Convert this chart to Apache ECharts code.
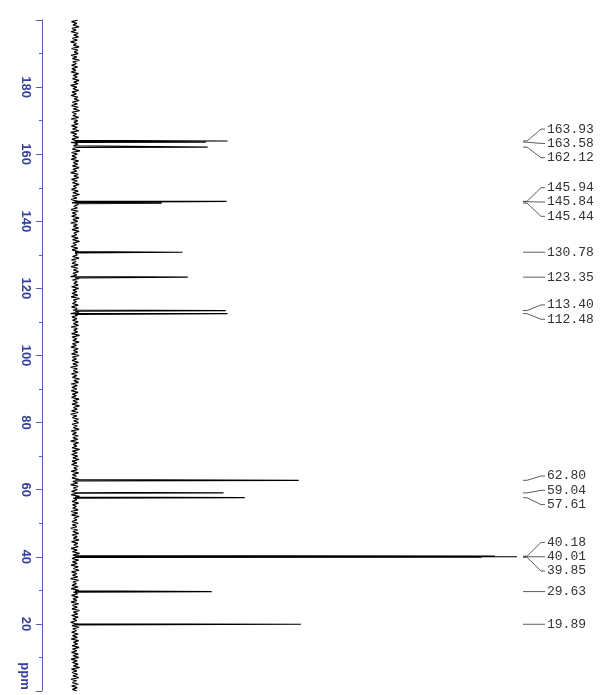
<!DOCTYPE html>
<html><head><meta charset="utf-8">
<script src="https://cdn.jsdelivr.net/npm/echarts@6/dist/echarts.min.js"></script>
<style>html,body{margin:0;padding:0;background:#fff}#c{width:610px;height:695px}</style>
</head><body><div id="c"></div>
<script>
// 13C NMR peaks (ppm) and their relative intensities (largest = 100)
const peakPpm = [163.93,163.58,162.12,145.94,145.84,145.44,130.78,123.35,113.40,112.48,62.80,59.04,57.61,40.18,40.01,39.85,29.63,19.89];
const peakHeight = [34.5,29.6,30.0,34.3,26.8,19.6,24.3,25.5,34.1,34.5,50.6,33.6,38.4,95,100,92,30.9,51.1];
const peakLabels = ["163.93","163.58","162.12","145.94","145.84","145.44","130.78","123.35","113.40","112.48","62.80","59.04","57.61","40.18","40.01","39.85","29.63","19.89"];
// baseline noise read each 0.5 ppm from 200 ppm down to 0 ppm
const noise = [
0.6,-0.8,0.4,-0.5,0.9,-0.7,0.2,-0.9,0.7,-0.3,0.8,-0.6,0.5,-1.0,0.3,-0.4,0.9,-0.8,0.6,-0.2,
0.7,-0.9,0.4,-0.6,1.0,-0.5,0.3,-0.8,0.6,-0.7,0.2,-0.9,0.8,-0.4,0.5,-0.6,0.9,-0.3,0.7,-1.0,
0.4,-0.5,0.8,-0.7,0.3,-0.9,0.6,-0.2,0.9,-0.6,0.5,-0.8,0.7,-0.4,1.0,-0.7,0.3,-0.5,0.8,-0.9,
0.6,-0.3,0.7,-0.8,0.5,-0.6,0.9,-1.0,0.4,-0.5,0.8,-0.7,0.2,-0.9,0.6,-0.4,0.7,-0.6,1.1,-0.8,
0.5,-0.7,0.3,-0.9,0.8,-0.4,0.6,-0.6,0.9,-0.5,0.4,-1.0,0.7,-0.3,0.8,-0.8,0.5,-0.6,0.9,-0.4,
0.3,-0.8,0.7,-0.5,1.0,-0.6,0.4,-0.9,0.6,-0.7,0.8,-0.3,0.5,-0.9,0.7,-0.6,0.3,-0.8,0.9,-0.5,
0.6,-1.0,0.5,-0.4,0.8,-0.7,0.9,-0.3,0.4,-0.8,0.7,-0.6,1.0,-0.5,0.3,-0.9,0.6,-0.7,0.8,-0.4,
0.5,-0.6,0.9,-0.8,0.2,-0.7,0.7,-0.9,0.6,-0.4,0.8,-0.5,0.4,-1.0,0.9,-0.6,0.5,-0.3,0.7,-0.8,
0.8,-0.5,0.4,-0.7,0.6,-0.9,1.0,-0.4,0.3,-0.6,0.7,-0.8,0.5,-0.5,0.9,-1.0,0.6,-0.7,0.4,-0.6,
0.7,-0.4,0.8,-0.9,0.5,-0.3,0.6,-0.8,1.0,-0.7,0.4,-0.5,0.9,-0.6,0.3,-0.9,0.7,-0.4,0.6,-0.8,
0.9,-0.6,0.3,-0.7,0.8,-0.5,0.6,-1.0,0.5,-0.4,0.7,-0.8,0.4,-0.6,1.0,-0.3,0.8,-0.9,0.5,-0.7,
0.4,-0.9,0.7,-0.6,0.3,-0.8,0.9,-0.5,0.6,-0.7,1.0,-0.4,0.5,-0.8,0.7,-1.0,0.4,-0.6,0.8,-0.3,
0.8,-0.7,0.5,-0.4,0.9,-0.9,0.3,-0.6,0.7,-0.5,0.6,-1.0,0.8,-0.4,0.4,-0.7,1.0,-0.6,0.5,-0.8,
0.6,-0.5,0.9,-0.7,0.4,-0.8,0.7,-0.3,0.5,-0.9,0.8,-0.6,0.3,-0.7,0.9,-0.5,0.6,-1.0,0.7,-0.4,
0.5,-0.8,0.6,-0.9,1.0,-0.4,0.4,-0.7,0.8,-0.6,0.3,-0.5,0.7,-0.9,0.6,-0.8,0.9,-0.3,0.4,-0.7,
0.7,-0.6,0.4,-1.0,0.6,-0.5,0.8,-0.7,0.5,-0.4,0.9,-0.8,0.6,-0.3,0.7,-0.9,0.5,-0.6,1.0,-0.5,
0.3,-0.7,0.8,-0.6,0.5,-0.9,0.7,-0.4,0.9,-0.8,0.4,-0.6,0.6,-1.0,0.8,-0.5,0.3,-0.7,0.7,-0.9,
0.9,-0.4,0.6,-0.8,0.7,-0.5,0.4,-0.9,0.8,-0.6,0.5,-0.7,1.0,-0.4,0.6,-0.8,0.7,-0.5,0.4,-1.0,
0.6,-0.7,0.9,-0.5,0.3,-0.8,0.7,-0.6,0.5,-0.9,0.8,-0.4,0.6,-0.7,0.9,-0.6,0.4,-0.8,0.7,-0.5,
0.8,-0.9,0.5,-0.6,0.7,-0.4,1.0,-0.8,0.4,-0.7,0.6,-0.5,0.8,-0.9,0.3,-0.6,0.7,-0.8,0.5,-0.6,
0.4];
const noiseStep = 0.5;
const tickLabels = [20,40,60,80,100,120,140,160,180];
const ppmMin = 0, ppmMax = 200;

// build spectrum points [intensity, ppm]
const pts = noise.map((v,i)=>[v, ppmMax - i*noiseStep]);
const d = 0.2;
peakPpm.forEach((p,i)=>{ pts.push([0,p+d],[peakHeight[i],p],[0,p-d]); });
pts.sort((a,b)=>b[1]-a[1]);

const chart = echarts.init(document.getElementById('c'), null, {renderer:'canvas'});
const axisCol = '#5b5bb8';
chart.setOption({
  animation:false,
  backgroundColor:'#fff',
  grid:{left:53, right:93, top:20, bottom:4, containLabel:false},
  xAxis:{type:'value', min:-5, max:100, show:false},
  yAxis:{type:'value', min:ppmMin, max:ppmMax, interval:20, position:'left', offset:11,
    axisLine:{show:true, onZero:false, lineStyle:{color:axisCol, width:1}},
    axisTick:{show:true, length:6, lineStyle:{color:axisCol}},
    minorTick:{show:true, splitNumber:2, length:3, lineStyle:{color:axisCol}},
    splitLine:{show:false},
    axisLabel:{rotate:-90, margin:10, color:'#34409a', fontWeight:'bold', fontSize:13, fontFamily:'Liberation Sans',
      formatter:v=> tickLabels.includes(v) ? String(v) : ''}
  },
  series:[{type:'line', data:pts, showSymbol:false, sampling:null, smooth:false,
    lineStyle:{color:'#000', width:1.2}, silent:true}]
});

// peak labels with connectors
const xEnd = chart.convertToPixel({gridIndex:0},[100,0])[0];
const items = peakPpm.map((p,i)=>({label:peakLabels[i], y:chart.convertToPixel({gridIndex:0},[0,p])[1]}));
items.sort((a,b)=>a.y-b.y);
const gap = 14.3;
function cStart(c){ const m=c.items.reduce((s,it)=>s+it.y,0)/c.items.length; return m-(c.items.length-1)*gap/2; }
const clusters=[];
items.forEach(it=>{
  clusters.push({items:[it]});
  while(clusters.length>1){
    const cur=clusters[clusters.length-1], prev=clusters[clusters.length-2];
    const prevEnd=cStart(prev)+(prev.items.length-1)*gap;
    if(cStart(cur) < prevEnd+gap-0.01){ prev.items=prev.items.concat(cur.items); clusters.pop(); } else break;
  }
});
const g=[];
const x0=xEnd+6, x1=xEnd+28;
clusters.forEach(c=>{
  const s=cStart(c);
  c.items.forEach((it,k)=>{
    const ly=s+k*gap;
    g.push({type:'polyline', shape:{points:[[x0,it.y],[x0+4,it.y],[x1-4,ly],[x1,ly]]}, style:{stroke:'#333', lineWidth:0.8, fill:null}, silent:true});
    g.push({type:'text', x:x1+2, y:ly, style:{text:it.label, fill:'#333', font:'13px "Liberation Mono"', textVerticalAlign:'middle', textAlign:'left'}, silent:true});
  });
});
const yz = chart.convertToPixel({gridIndex:0},[0,ppmMin])[1];
g.push({type:'text', x:25, y:yz-15, rotation:-Math.PI/2, style:{text:'ppm', fill:'#34409a', font:'bold 13px "Liberation Sans"', textAlign:'center', textVerticalAlign:'middle'}, silent:true});
chart.setOption({graphic:g});
</script></body></html>
